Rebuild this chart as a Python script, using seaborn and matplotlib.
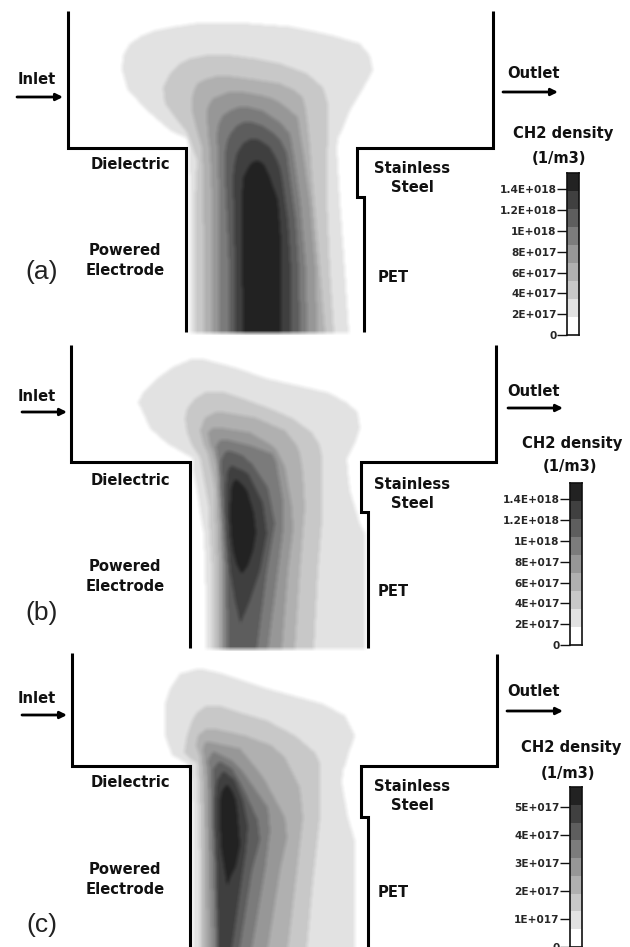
import numpy as np
import seaborn as sns
import matplotlib
matplotlib.use("Agg")
import matplotlib.pyplot as plt
from matplotlib.colors import LinearSegmentedColormap, ListedColormap

W, H = 630, 947

# contour outlines, one list per level: (y, left, right)
a_levels = [
    [(23, 195, 250), (26, 175, 290), (30, 155, 310), (35, 142, 333), (43, 130, 360), (55, 123, 370), (70, 122, 373),
     (90, 128, 362), (110, 147, 350), (130, 170, 342), (138, 187, 338), (148, 189, 337), (200, 190, 340), (270, 190, 345),
     (332, 190, 349)],
    [(55, 205, 232), (58, 190, 255), (63, 180, 280), (73, 170, 307), (87, 163, 323), (103, 165, 328), (110, 170, 328),
     (117, 175, 328), (132, 187, 328), (160, 197, 327), (200, 195, 327), (270, 195, 330), (332, 195, 334)],
    [(76, 215, 232), (79, 205, 255), (83, 197, 280), (90, 194, 295), (97, 192, 303), (110, 192, 306), (127, 196, 308),
     (147, 202, 310), (177, 203, 312), (270, 204, 320), (332, 204, 325)],
    [(92, 228, 245), (95, 220, 262), (98, 213, 272), (102, 210, 280), (110, 207, 290), (117, 207, 298), (133, 208, 300),
     (150, 210, 303), (200, 212, 310), (270, 212, 316), (332, 212, 317)],
    [(107, 238, 250), (110, 230, 262), (115, 223, 270), (122, 219, 280), (133, 217, 290), (157, 218, 294), (200, 219, 300),
     (270, 219, 306), (332, 219, 307)],
    [(122, 243, 253), (125, 237, 262), (132, 231, 273), (140, 227, 281), (153, 225, 287), (177, 225, 290), (220, 227, 296),
     (270, 229, 299), (332, 229, 300)],
    [(139, 249, 258), (143, 243, 265), (147, 240, 270), (155, 236, 275), (167, 234, 280), (177, 233, 282), (220, 234, 288),
     (270, 235, 291), (332, 235, 291)],
    [(161, 254, 260), (164, 250, 264), (168, 248, 266), (177, 243, 270), (200, 242, 278), (240, 242, 281), (332, 243, 281)],
]
b_levels = [
    [(359, 190, 205), (367, 172, 235), (378, 157, 267), (392, 143, 328), (402, 138, 347), (412, 143, 358), (428, 150, 360),
     (443, 167, 355), (458, 193, 347), (470, 193, 348), (490, 197, 350), (523, 202, 360), (533, 204, 365), (600, 206, 365),
     (648, 206, 365)],
    [(392, 205, 225), (398, 195, 243), (408, 187, 270), (418, 185, 293), (432, 187, 312), (445, 192, 320), (457, 200, 322),
     (507, 209, 322), (520, 209, 322), (570, 212, 318), (648, 212, 314)],
    [(412, 215, 225), (417, 205, 255), (430, 200, 285), (445, 204, 297), (453, 208, 300), (473, 212, 303), (490, 215, 304),
     (507, 215, 305), (570, 217, 300), (648, 217, 295)],
    [(428, 212, 225), (432, 208, 250), (445, 210, 272), (450, 213, 277), (467, 217, 285), (507, 219, 292), (530, 220, 293),
     (570, 221, 288), (648, 221, 282)],
    [(440, 220, 230), (445, 216, 250), (453, 217, 272), (460, 218, 276), (500, 220, 283), (530, 222, 283), (570, 224, 278),
     (648, 224, 268)],
    [(451, 226, 232), (455, 223, 243), (460, 221, 248), (463, 221, 252), (487, 222, 268), (523, 224, 275), (570, 227, 267),
     (648, 228, 257)],
    [(466, 230, 234), (470, 228, 243), (473, 227, 248), (490, 226, 257), (503, 226, 263), (533, 227, 267), (570, 230, 260),
     (600, 235, 250), (622, 240, 241)],
    [(480, 234, 238), (485, 232, 243), (490, 231, 247), (513, 230, 254), (533, 231, 256), (550, 233, 253), (565, 237, 248),
     (572, 241, 243)],
]
c_levels = [
    [(669, 195, 205), (673, 180, 222), (688, 170, 267), (703, 165, 322), (715, 165, 345), (735, 165, 355), (755, 172, 348),
     (763, 187, 346), (770, 190, 343), (783, 192, 342), (817, 193, 348), (840, 193, 355), (947, 193, 355)],
    [(706, 205, 222), (712, 197, 240), (720, 192, 267), (735, 187, 295), (752, 184, 315), (758, 190, 318), (763, 197, 320),
     (817, 199, 320), (880, 200, 313), (947, 200, 307)],
    [(729, 205, 218), (735, 198, 245), (745, 196, 272), (757, 200, 285), (787, 202, 300), (817, 203, 303), (870, 203, 297),
     (947, 203, 288)],
    [(742, 205, 212), (748, 203, 240), (770, 205, 258), (780, 206, 265), (817, 206, 285), (837, 207, 287), (870, 207, 280),
     (947, 208, 268)],
    [(752, 212, 216), (760, 208, 232), (770, 209, 242), (807, 210, 268), (830, 210, 270), (870, 211, 265), (947, 213, 252)],
    [(762, 218, 222), (768, 213, 232), (787, 213, 243), (820, 213, 258), (840, 214, 260), (870, 215, 252), (947, 217, 240)],
    [(772, 222, 226), (780, 217, 235), (800, 215, 243), (825, 215, 248), (850, 216, 246), (870, 217, 243), (947, 218, 232)],
    [(785, 226, 228), (790, 222, 232), (800, 220, 236), (817, 220, 238), (845, 221, 240), (865, 224, 236), (878, 226, 230),
     (884, 227, 228)],
]

greys = ["#ffffff", "#e2e2e2", "#c8c8c8", "#b0b0b0", "#979797", "#7c7c7c", "#5e5e5e", "#404040", "#222222"]

# reactor walls
a_wall_left = ([68, 68, 186, 186], [11, 148, 148, 332])
a_wall_right = ([493, 493, 357, 357, 364, 364], [11, 148, 148, 197, 197, 332])
b_wall_left = ([71, 71, 190, 190], [345, 462, 462, 648])
b_wall_right = ([496, 496, 361, 361, 368, 368], [345, 462, 462, 512, 512, 648])
c_wall_left = ([72, 72, 190, 190], [653, 766, 766, 947])
c_wall_right = ([497, 497, 361, 361, 368, 368], [654, 766, 766, 817, 817, 947])

# colour bars
a_ticks = [1.4e18, 1.2e18, 1e18, 8e17, 6e17, 4e17, 2e17, 0]
a_tick_labels = ["1.4E+018", "1.2E+018", "1E+018", "8E+017", "6E+017", "4E+017", "2E+017", "0"]
c_ticks = [5e17, 4e17, 3e17, 2e17, 1e17, 0]
c_tick_labels = ["5E+017", "4E+017", "3E+017", "2E+017", "1E+017", "0"]
a_vmax = 1.556e18
c_vmax = 5.72e17

bold_labels = [
    ("Inlet", 37, 79), ("Outlet", 533, 73), ("Dielectric", 130, 164), ("Powered", 125, 250),
    ("Electrode", 125, 270), ("Stainless", 412, 168), ("Steel", 412, 187), ("PET", 393, 277),
    ("CH2 density", 563, 133), ("(1/m3)", 559, 158),
    ("Inlet", 37, 396), ("Outlet", 533, 391), ("Dielectric", 130, 480), ("Powered", 125, 566),
    ("Electrode", 125, 586), ("Stainless", 412, 484), ("Steel", 412, 503), ("PET", 393, 591),
    ("CH2 density", 572, 443), ("(1/m3)", 570, 466),
    ("Inlet", 37, 698), ("Outlet", 533, 691), ("Dielectric", 130, 782), ("Powered", 125, 869),
    ("Electrode", 125, 889), ("Stainless", 412, 786), ("Steel", 412, 805), ("PET", 393, 892),
    ("CH2 density", 571, 747), ("(1/m3)", 568, 773),
]
panel_labels = [("(a)", 42, 272), ("(b)", 42, 613), ("(c)", 42, 925)]
arrows = [(17, 63, 97), (503, 558, 92), (22, 67, 412), (508, 563, 408), (22, 67, 715), (507, 563, 711)]


def add_levels(field, levels):
    for outline in levels:
        rows = np.array(outline, dtype=float)
        ys = np.arange(int(rows[0, 0]), min(int(rows[-1, 0]) + 1, H))
        lefts = np.interp(ys, rows[:, 0], rows[:, 1])
        rights = np.interp(ys, rows[:, 0], rows[:, 2])
        for y, l, r in zip(ys, lefts, rights):
            field[y, int(round(l)):int(round(r))] += 1


def soften(field, size=5):
    # the scan is blurry, a box filter rounds the outlines the same way
    kernel = np.ones(size) / size
    pad = size // 2
    out = np.pad(field, pad, mode="edge")
    out = np.apply_along_axis(lambda v: np.convolve(v, kernel, mode="same"), 0, out)
    out = np.apply_along_axis(lambda v: np.convolve(v, kernel, mode="same"), 1, out)
    return out[pad:-pad, pad:-pad]


def colour_bar(fig, left, top, right, bottom, ticks, labels, vmax):
    ax = fig.add_axes([left / W, 1 - bottom / H, (right - left) / W, (bottom - top) / H])
    cells = np.arange(len(greys) - 1, -1, -1).reshape(-1, 1)
    sns.heatmap(cells, ax=ax, cmap=ListedColormap(greys), cbar=False, xticklabels=False, yticklabels=False)
    ax.set_yticks([(vmax - t) / vmax * len(greys) for t in ticks])
    ax.set_yticklabels(labels, fontsize=7.6, fontweight="bold", rotation=0)
    ax.tick_params(axis="y", length=7, width=1, pad=0.5, left=True, color="#111111")
    for s in ax.spines.values():
        s.set_visible(True)
        s.set_linewidth(1.2)
        s.set_color("#111111")
    return ax


sns.set_theme(style="white")
plt.rcParams["font.family"] = ["DejaVu Sans"]

fig = plt.figure(figsize=(W / 100, H / 100), dpi=100)
ax = fig.add_axes([0, 0, 1, 1])

field = np.zeros((H, W))
add_levels(field, a_levels)
add_levels(field, b_levels)
add_levels(field, c_levels)
field = soften(field)

cmap = LinearSegmentedColormap.from_list("ch2", [(i / 8, g) for i, g in enumerate(greys)])
sns.heatmap(field, ax=ax, cmap=cmap, vmin=0, vmax=8, cbar=False, xticklabels=False, yticklabels=False)

for xs, ys in [a_wall_left, a_wall_right, b_wall_left, b_wall_right, c_wall_left, c_wall_right]:
    ax.plot(xs, ys, color="black", lw=2.2, solid_joinstyle="miter", solid_capstyle="butt")

for x0, x1, y in arrows:
    ax.annotate("", xy=(x1, y), xytext=(x0, y),
                arrowprops=dict(arrowstyle="-|>", color="black", lw=2, mutation_scale=10, shrinkA=0, shrinkB=0))

for txt, x, y in bold_labels:
    ax.text(x, y, txt, ha="center", va="center", fontsize=10.6, fontweight="bold", color="#111111")
for txt, x, y in panel_labels:
    ax.text(x, y, txt, ha="center", va="center", fontsize=19, color="#222222", family="Liberation Sans")

ax.set_xlim(0, W)
ax.set_ylim(H, 0)

colour_bar(fig, 567, 173, 579, 335, a_ticks, a_tick_labels, a_vmax)
colour_bar(fig, 570, 483, 582, 645, a_ticks, a_tick_labels, a_vmax)
colour_bar(fig, 570, 787, 582, 947, c_ticks, c_tick_labels, c_vmax)

fig.savefig("out.png", dpi=100)
